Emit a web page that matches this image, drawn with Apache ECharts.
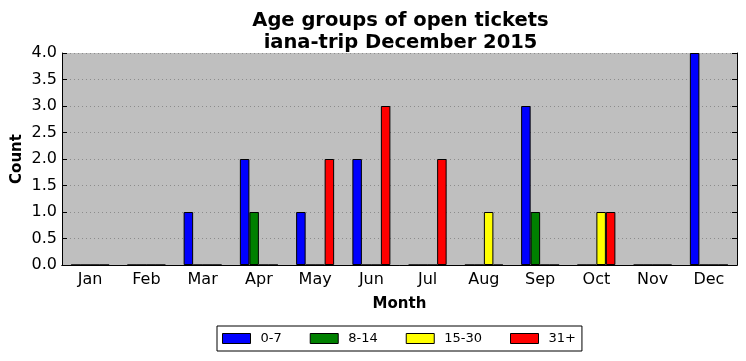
<!DOCTYPE html>
<html>
<head>
<meta charset="utf-8">
<script src="https://cdn.jsdelivr.net/npm/echarts@6/dist/echarts.min.js"></script>
<style>html,body{margin:0;padding:0;background:#fff}#c{width:746px;height:361px}</style>
</head>
<body>
<div id="c"></div>
<script>
const months = ['Jan','Feb','Mar','Apr','May','Jun','Jul','Aug','Sep','Oct','Nov','Dec'];
const age0to7   = [0,0,1,2,1,2,0,0,3,0,0,4];
const age8to14  = [0,0,0,1,0,0,0,0,1,0,0,0];
const age15to30 = [0,0,0,0,0,0,0,1,0,1,0,0];
const age31plus = [0,0,0,0,2,3,2,0,0,1,0,0];
const yTicks = [0,0.5,1,1.5,2,2.5,3,3.5,4];

const seriesDefs = [
  {name:'0-7', data:age0to7, color:'#0000ff'},
  {name:'8-14', data:age8to14, color:'#008000'},
  {name:'15-30', data:age15to30, color:'#ffff00'},
  {name:'31+', data:age31plus, color:'#ff0000'}
];
const font = 'DejaVu Sans';
const chart = echarts.init(document.getElementById('c'), null, {renderer:'canvas'});
chart.setOption({
  animation:false,
  backgroundColor:'#ffffff',
  title:{
    text:'Age groups of open tickets\niana-trip December 2015',
    left:395.5, top:5, textAlign:'center',
    textStyle:{fontFamily:font,fontWeight:'bold',fontSize:19.5,color:'#000',lineHeight:22}
  },
  legend:{
    top:326, left:217,
    data:seriesDefs.map(s=>s.name),
    itemWidth:28, itemHeight:10, itemGap:28,
    padding:[6,6,6,5],
    borderColor:'#000', borderWidth:1, borderRadius:0,
    icon:'rect',
    itemStyle:{borderColor:'#000',borderWidth:1},
    textStyle:{fontFamily:font,fontSize:13,color:'#000',padding:[0,0,0,5]}
  },
  grid:{left:62,right:9,top:53,bottom:96,show:true,backgroundColor:'#bfbfbf',borderWidth:0,outerBoundsMode:'none',containLabel:false},
  xAxis:[{
    type:'category', data:months, boundaryGap:true,
    name:'Month', nameLocation:'middle', nameGap:32, nameMoveOverlap:false,
    nameTextStyle:{fontFamily:font,fontWeight:'bold',fontSize:15,color:'#000'},
    axisLine:{lineStyle:{color:'#000',width:1}},
    axisTick:{inside:true,length:5,alignWithLabel:true,lineStyle:{color:'#000'}},
    axisLabel:{fontFamily:font,fontSize:16,color:'#000',margin:7},
    splitLine:{show:false}
  },{
    type:'category', data:months, boundaryGap:true, position:'top',
    axisLine:{lineStyle:{color:'#000',width:1}},
    axisTick:{inside:true,length:5,alignWithLabel:true,lineStyle:{color:'#000'}},
    axisLabel:{show:false}, splitLine:{show:false}
  }],
  yAxis:[{
    type:'value', min:0, max:4, interval:0.5,
    name:'Count', nameLocation:'middle', nameGap:37, nameRotate:90, nameMoveOverlap:false,
    nameTextStyle:{fontFamily:font,fontWeight:'bold',fontSize:15,color:'#000'},
    axisLine:{show:true,lineStyle:{color:'#000',width:1}},
    axisTick:{show:true,inside:true,length:5,lineStyle:{color:'#000'}},
    axisLabel:{fontFamily:font,fontSize:16,color:'#000',margin:5,formatter:v=>v.toFixed(1)},
    splitLine:{show:true,lineStyle:{color:'#8c8c8c',type:[1,3],width:1}}
  },{
    type:'value', min:0, max:4, interval:0.5, position:'right',
    axisLine:{show:true,lineStyle:{color:'#000',width:1}},
    axisTick:{show:true,inside:true,length:5,lineStyle:{color:'#000'}},
    axisLabel:{show:false}, splitLine:{show:false}
  }],
  series:seriesDefs.map(s=>({
    name:s.name, type:'bar', data:s.data, xAxisIndex:0, yAxisIndex:0,
    barWidth:9.5, barGap:'0%',
    itemStyle:{color:s.color,borderColor:'#000',borderWidth:1}
  }))
});
</script>
</body>
</html>
